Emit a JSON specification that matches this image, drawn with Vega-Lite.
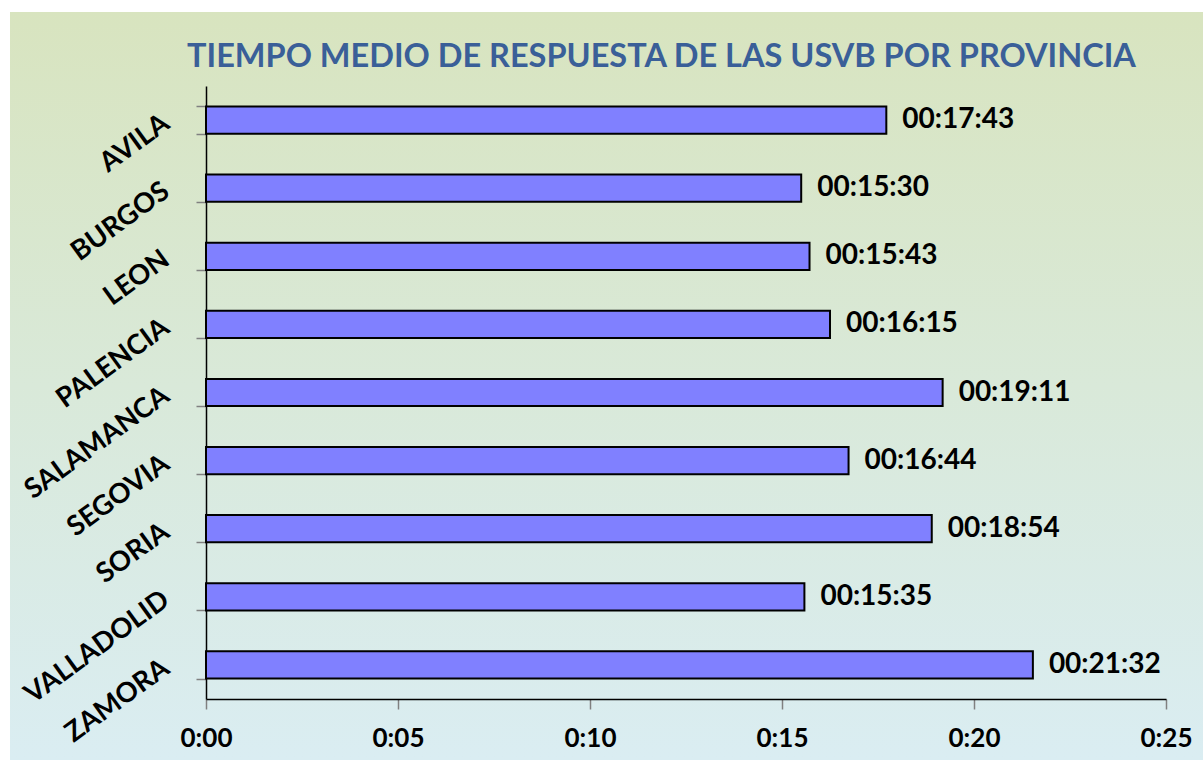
{
  "$schema": "https://vega.github.io/schema/vega-lite/v6.json",
  "width": 1193,
  "height": 748,
  "autosize": {"type": "none"},
  "padding": {"left": 10, "top": 12, "right": 0, "bottom": 0},
  "background": "white",
  "view": {
    "stroke": null,
    "fill": {
      "gradient": "linear",
      "x1": 0, "y1": 0, "x2": 0, "y2": 1,
      "stops": [
        {"offset": 0, "color": "#D8E4BF"},
        {"offset": 0.5, "color": "#D9E9D9"},
        {"offset": 1, "color": "#DAEDF2"}
      ]
    }
  },
  "title": {
    "text": "TIEMPO MEDIO DE RESPUESTA DE LAS USVB POR PROVINCIA",
    "font": "Lato",
    "fontSize": 32.5,
    "fontWeight": "bold",
    "color": "#3A5F98",
    "anchor": "start",
    "frame": "group",
    "orient": "top",
    "baseline": "alphabetic",
    "offset": 0,
    "dx": 177,
    "dy": 99
  },
  "data": {
    "values": [
      {"provincia": "AVILA", "segundos": 1063, "etiqueta": "00:17:43"},
      {"provincia": "BURGOS", "segundos": 930, "etiqueta": "00:15:30"},
      {"provincia": "LEON", "segundos": 943, "etiqueta": "00:15:43"},
      {"provincia": "PALENCIA", "segundos": 975, "etiqueta": "00:16:15"},
      {"provincia": "SALAMANCA", "segundos": 1151, "etiqueta": "00:19:11"},
      {"provincia": "SEGOVIA", "segundos": 1004, "etiqueta": "00:16:44"},
      {"provincia": "SORIA", "segundos": 1134, "etiqueta": "00:18:54"},
      {"provincia": "VALLADOLID", "segundos": 935, "etiqueta": "00:15:35"},
      {"provincia": "ZAMORA", "segundos": 1292, "etiqueta": "00:21:32"}
    ]
  },
  "encoding": {
    "y": {
      "field": "provincia",
      "type": "nominal",
      "sort": null,
      "scale": {"range": [74, 687], "paddingInner": 0.6, "paddingOuter": 0.3},
      "axis": {
        "orient": "left",
        "offset": -196,
        "title": null,
        "tickBand": "extent",
        "domainColor": "#000000",
        "domainWidth": 1.5,
        "tickColor": "#808080",
        "tickSize": 10,
        "tickWidth": 1.5,
        "labelAngle": -36,
        "labelAlign": "right",
        "labelBaseline": "middle",
        "labelFont": "Lato",
        "labelFontSize": 27.5,
        "labelFontWeight": "bold",
        "labelColor": "#000000",
        "labelPadding": 30,
        "labelOverlap": false,
        "labelBound": false
      }
    },
    "x": {
      "field": "segundos",
      "type": "quantitative",
      "scale": {"domain": [0, 1500], "range": [196, 1156], "nice": false, "zero": true},
      "axis": {
        "orient": "bottom",
        "offset": -61,
        "title": null,
        "grid": false,
        "values": [0, 300, 600, 900, 1200, 1500],
        "labelExpr": "'0:' + (datum.value < 600 ? '0' : '') + (datum.value / 60)",
        "domainColor": "#000000",
        "domainWidth": 1.5,
        "tickColor": "#808080",
        "tickSize": 10,
        "tickWidth": 1.5,
        "labelFont": "Lato",
        "labelFontSize": 26,
        "labelFontWeight": "bold",
        "labelColor": "#000000",
        "labelPadding": 16,
        "labelFlush": false,
        "labelOverlap": false,
        "labelBound": false
      }
    }
  },
  "layer": [
    {
      "mark": {"type": "bar", "fill": "#8080FF", "stroke": "#000000", "strokeWidth": 2}
    },
    {
      "mark": {"type": "text", "align": "left", "baseline": "middle", "dx": 16, "font": "Lato", "fontSize": 28, "fontWeight": "bold", "color": "#000000"},
      "encoding": {"text": {"field": "etiqueta"}}
    }
  ]
}
